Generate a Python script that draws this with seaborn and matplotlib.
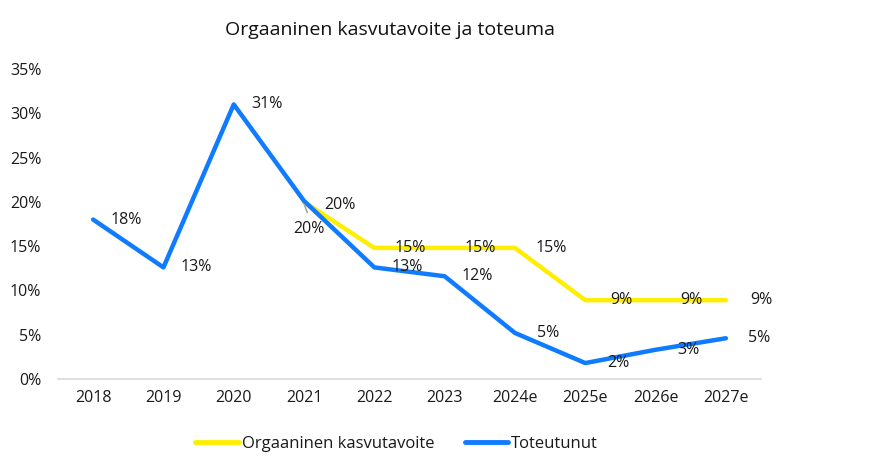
import matplotlib
matplotlib.use("Agg")
import matplotlib.pyplot as plt
import seaborn as sns
import pandas as pd
import numpy as np
from matplotlib.ticker import FuncFormatter

years = ["2018", "2019", "2020", "2021", "2022", "2023", "2024e", "2025e", "2026e", "2027e"]
target = [np.nan, np.nan, np.nan, 20.0, 14.8, 14.8, 14.8, 8.9, 8.9, 8.9]
actual = [18.0, 12.6, 31.0, 20.1, 12.6, 11.6, 5.2, 1.8, 3.3, 4.6]
target_labels = [None, None, None, "20%", "15%", "15%", "15%", "9%", "9%", "9%"]
actual_labels = ["18%", "13%", "31%", "20%", "13%", "12%", "5%", "2%", "3%", "5%"]
series_names = ["Orgaaninen kasvutavoite", "Toteutunut"]
title = "Orgaaninen kasvutavoite ja toteuma"

sns.set_theme(style="white")
plt.rcParams["font.family"] = ["Open Sans", "DejaVu Sans"]

df = pd.DataFrame({
    "year": years * 2,
    "value": target + actual,
    "series": [series_names[0]] * len(years) + [series_names[1]] * len(years),
})

fig = plt.figure(figsize=(8.74, 4.69), dpi=100)
ax = fig.add_axes([58 / 874, 1 - 379 / 469, (761 - 58) / 874, (379 - 69) / 469])

palette = {series_names[0]: "#FFEE00", series_names[1]: "#0F7BFF"}
sns.lineplot(data=df, x="year", y="value", hue="series", hue_order=series_names,
             palette=palette, linewidth=3.2, ax=ax, sort=False, legend=True)

FS = 11.5
TC = "#1a1a1a"
ax.set_ylim(0, 35)
ax.set_xlim(-0.5, len(years) - 0.5)
ax.set_yticks(np.arange(0, 36, 5))
ax.yaxis.set_major_formatter(FuncFormatter(lambda v, p: f"{int(v)}%"))
ax.set_xlabel("")
ax.set_ylabel("")
ax.tick_params(axis="both", labelsize=FS, colors=TC, length=0, pad=8)
ax.tick_params(axis="y", pad=12)
for s in ["top", "right", "left"]:
    ax.spines[s].set_visible(False)
ax.spines["bottom"].set_color("#D9D9D9")
ax.spines["bottom"].set_linewidth(1.2)
ax.grid(False)

# data labels
for i, (v, lab) in enumerate(zip(actual, actual_labels)):
    if i == 3:
        ax.annotate(lab, xy=(i, v), xytext=(5, -28), textcoords="offset pixels",
                    fontsize=FS, color=TC, ha="center", va="center")
        ax.annotate("", xy=(i - 0.01, v - 0.1), xytext=(i + 0.06, v - 1.6),
                    arrowprops=dict(arrowstyle="-", color="#A6A6A6", lw=1.2))
    else:
        ax.annotate(lab, xy=(i, v), xytext=(33, 0), textcoords="offset pixels",
                    fontsize=FS, color=TC, ha="center", va="center")
for i, (v, lab) in enumerate(zip(target, target_labels)):
    if lab is None:
        continue
    off = (36, 0) if i != 3 else (36, -3)
    ax.annotate(lab, xy=(i, v), xytext=off, textcoords="offset pixels",
                fontsize=FS, color=TC, ha="center", va="center")

leg = ax.legend(loc="upper center", bbox_to_anchor=(0.482, -0.135), ncol=2, frameon=False,
                fontsize=12, handlelength=2.6, handletextpad=0.2, columnspacing=1.8)
for txt in leg.get_texts():
    txt.set_color(TC)
for line in leg.get_lines():
    line.set_linewidth(3.5)

fig.text(390 / 874, 1 - 30 / 469, title, ha="center", va="center", fontsize=14, color="#111111")

fig.savefig("out.png", dpi=100)
